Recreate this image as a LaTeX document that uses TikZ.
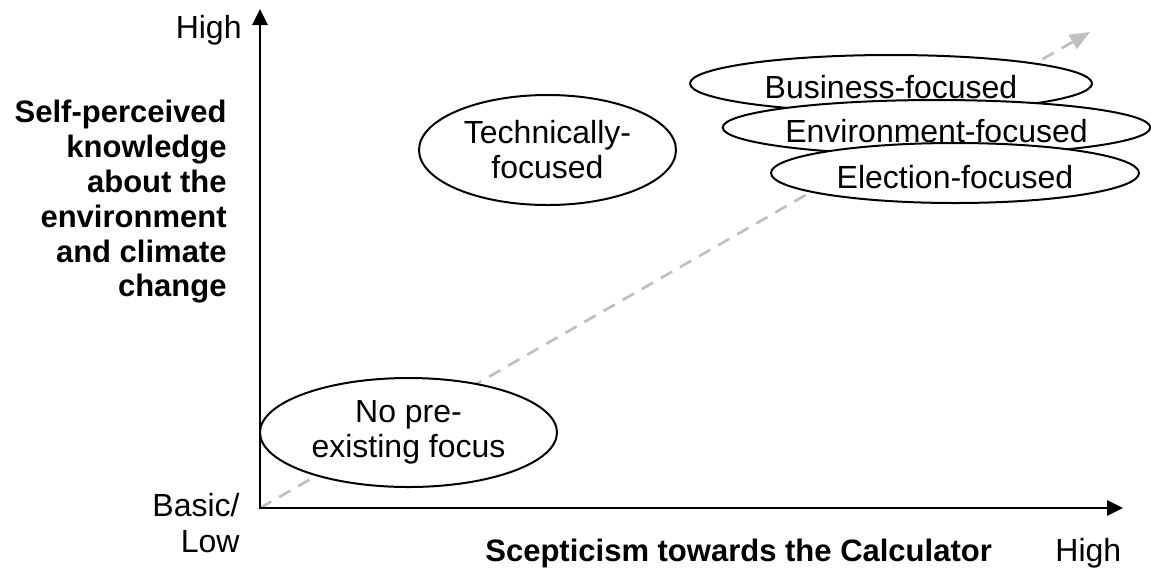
\documentclass[tikz,border=0pt]{standalone}
\usepackage{fontspec}
\setmainfont{Liberation Sans}
\usepackage{tikz}
\usetikzlibrary{positioning,arrows.meta,shapes.geometric,calc}
\definecolor{trendGray}{HTML}{C0C0C0}
\tikzset{
  axisline/.style={line width=1.35pt, {Triangle[length=8pt,width=7.5pt]}-{Triangle[length=8pt,width=7.5pt]}},
  trendline/.style={trendGray, line width=1.35pt, dash pattern=on 6.5pt off 4.5pt,
                    -{Triangle[length=10pt,width=8pt]}},
  groupnode/.style={draw, ellipse, fill=white, line width=1pt, inner sep=0pt,
                    align=center, font=\fontsize{16}{17.5}\selectfont},
  onelinegroup/.style={groupnode, text height=15pt, text depth=0pt},
  axislabel/.style={inner sep=0pt, font=\fontsize{15.5}{17.4}\selectfont\bfseries},
  ticklabel/.style={inner sep=0pt, font=\fontsize{16}{18}\selectfont},
}

\begin{document}
\begin{tikzpicture}[x=0.5pt, y=-0.5pt]
\useasboundingbox (0,0) rectangle (1151,569);
\def\xAxis{260}   % x-position of the vertical axis
\def\yAxis{508}   % y-position of the horizontal axis

%% Axis points
\coordinate (origin) at (\xAxis, \yAxis);
\coordinate (ytop) at (\xAxis, 9);
\coordinate (xend) at (1123, \yAxis);
\coordinate (trendend) at (1090, 32);

%% Trend arrow
\draw[trendline] (origin) -- (trendend);

%% Groups
\node[groupnode, minimum width=128.5pt, minimum height=55pt] (tech) at (547.5, 150) {Technically-\\focused};
\node[groupnode, minimum width=148.5pt, minimum height=54.5pt] (nopre) at (408.5, 432.5) {No pre-\\existing focus};
\node[onelinegroup, minimum width=201pt, minimum height=28.5pt] (biz) at (891, 83.5) {Business-focused};
\node[onelinegroup, minimum width=213.5pt, minimum height=27.5pt] (env) at (936.5, 127.5) {Environment-focused};
\node[onelinegroup, minimum width=184pt, minimum height=30pt] (elec) at (955, 173) {Election-focused};

%% Axes
\draw[axisline] (ytop) -- (origin) -- (xend);

%% Axis labels
\node[ticklabel, anchor=base east] (yhigh) at (242, 38) {High};
\node[ticklabel, anchor=east, align=right] (ylow) at (240, 523.5) {Basic/\\Low};
\node[ticklabel, anchor=base west] (xhigh) at (1055, 561) {High};
\node[axislabel, anchor=base west] (xlabel) at (485, 561) {Scepticism towards the Calculator};
\node[axislabel, anchor=east, align=right] (ylabel) at (227, 202) {Self-perceived\\knowledge\\about the\\environment\\and climate\\change};
\end{tikzpicture}
\end{document}
